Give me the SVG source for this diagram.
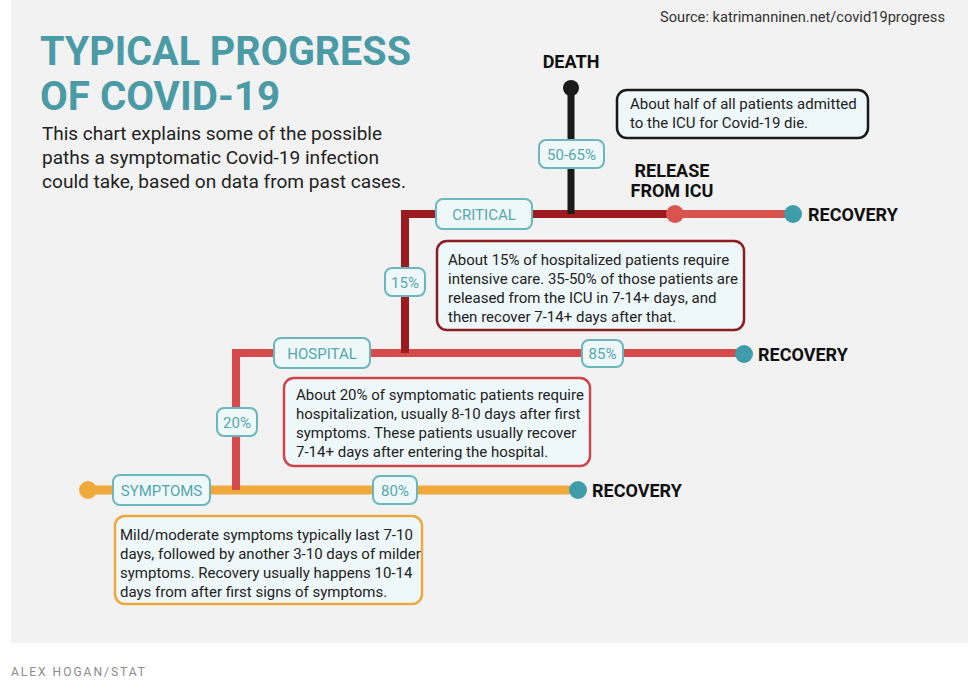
<svg xmlns="http://www.w3.org/2000/svg" width="972" height="691" viewBox="0 0 972 691">
<style>
text{font-family:Roboto,"Liberation Sans",sans-serif}
.lbl{fill:#eef8f9;stroke:#6bb7bd;stroke-width:2}
.lt{fill:#56a6ae;font-size:15px;text-anchor:middle}
.desc{fill:#eef7f9;stroke-width:2.5}
.dt{fill:#222;font-size:15px}
.end{fill:#111;font-size:18px;font-weight:bold}
.rec{fill:#3f9dab}
</style>
<rect x="0" y="0" width="972" height="691" fill="#ffffff"/>
<rect x="11" y="0" width="957" height="643" fill="#f2f2f2"/>
<g id="title">
<text x="40" y="65" font-size="40" font-weight="bold" fill="#4a9ba6" textLength="371" lengthAdjust="spacingAndGlyphs">TYPICAL PROGRESS</text>
<text x="40" y="110" font-size="40" font-weight="bold" fill="#4a9ba6" textLength="240" lengthAdjust="spacingAndGlyphs">OF COVID-19</text>
<text x="42" y="140" font-size="19" fill="#222" textLength="340" lengthAdjust="spacingAndGlyphs">This chart explains some of the possible</text>
<text x="42" y="164" font-size="19" fill="#222" textLength="337" lengthAdjust="spacingAndGlyphs">paths a symptomatic Covid-19 infection</text>
<text x="42" y="188" font-size="19" fill="#222" textLength="364" lengthAdjust="spacingAndGlyphs">could take, based on data from past cases.</text>
<text x="660" y="22" font-size="14" fill="#333" textLength="285" lengthAdjust="spacingAndGlyphs">Source: katrimanninen.net/covid19progress</text>
</g>
<g id="connectors" fill="none" stroke-linecap="butt">
<line x1="88" y1="490" x2="578" y2="490" stroke="#f0aa3c" stroke-width="9"/>
<polyline points="236,490 236,353 744,353" stroke="#d64a4c" stroke-width="8"/>
<polyline points="405,353 405,214 675,214" stroke="#9c1b1f" stroke-width="8"/>
<line x1="675" y1="214" x2="793" y2="214" stroke="#d9534f" stroke-width="8"/>
<line x1="571" y1="88" x2="571" y2="214" stroke="#1a1a1a" stroke-width="7"/>
</g>
<g id="dots">
<circle cx="88" cy="490" r="9" fill="#f0aa3c"/>
<circle cx="578" cy="490" r="9" class="rec"/>
<circle cx="744" cy="354" r="9" class="rec"/>
<circle cx="793" cy="214" r="9" class="rec"/>
<circle cx="675" cy="214" r="9" fill="#d9534f"/>
<circle cx="571" cy="88" r="8" fill="#1a1a1a"/>
</g>
<g id="symptoms"><rect x="113" y="475" width="97" height="30" rx="7" class="lbl"/><text x="161.5" y="496" class="lt">SYMPTOMS</text></g>
<g id="p80"><rect x="373" y="476" width="44" height="28" rx="7" class="lbl"/><text x="395" y="496" class="lt">80%</text></g>
<g id="rec1"><text x="592" y="497" class="end">RECOVERY</text></g>
<g id="p20"><rect x="217" y="408" width="40" height="28" rx="7" class="lbl"/><text x="237" y="428" class="lt">20%</text></g>
<g id="hospital"><rect x="274" y="338" width="96" height="30" rx="7" class="lbl"/><text x="322" y="359" class="lt">HOSPITAL</text></g>
<g id="p85"><rect x="582" y="340" width="41" height="27" rx="7" class="lbl"/><text x="602.5" y="359" class="lt">85%</text></g>
<g id="rec2"><text x="758" y="361" class="end">RECOVERY</text></g>
<g id="p15"><rect x="385" y="268" width="40" height="28" rx="7" class="lbl"/><text x="405" y="288" class="lt">15%</text></g>
<g id="critical"><rect x="436" y="199" width="96" height="30" rx="7" class="lbl"/><text x="484" y="220" class="lt">CRITICAL</text></g>
<g id="p5065"><rect x="539" y="140" width="65" height="28" rx="7" class="lbl"/><text x="571.5" y="160" class="lt">50-65%</text></g>
<g id="death"><text x="571" y="68" class="end" text-anchor="middle">DEATH</text></g>
<g id="release"><text x="672" y="177" class="end" text-anchor="middle">RELEASE</text><text x="672" y="197" class="end" text-anchor="middle">FROM ICU</text></g>
<g id="rec3"><text x="808" y="221" class="end">RECOVERY</text></g>
<g id="deathNote">
<rect x="617" y="90" width="251" height="48" rx="10" class="desc" stroke="#1a1a1a"/>
<text x="630" y="109" class="dt">About half of all patients admitted</text>
<text x="630" y="128" class="dt">to the ICU for Covid-19 die.</text>
</g>
<g id="icuNote">
<rect x="437" y="241" width="307" height="89" rx="10" class="desc" stroke="#8b1e22"/>
<text x="448" y="265" class="dt">About 15% of hospitalized patients require</text>
<text x="448" y="284" class="dt">intensive care. 35-50% of those patients are</text>
<text x="448" y="303" class="dt">released from the ICU in 7-14+ days, and</text>
<text x="448" y="322" class="dt">then recover 7-14+ days after that.</text>
</g>
<g id="hospNote">
<rect x="284" y="378" width="306" height="88" rx="10" class="desc" stroke="#c9474d"/>
<text x="296" y="400" class="dt">About 20% of symptomatic patients require</text>
<text x="296" y="419" class="dt">hospitalization, usually 8-10 days after first</text>
<text x="296" y="438" class="dt">symptoms. These patients usually recover</text>
<text x="296" y="457" class="dt">7-14+ days after entering the hospital.</text>
</g>
<g id="sympNote">
<rect x="115" y="516" width="307" height="88" rx="10" class="desc" stroke="#eaaa40"/>
<text x="120" y="540" class="dt">Mild/moderate symptoms typically last 7-10</text>
<text x="120" y="559" class="dt">days, followed by another 3-10 days of milder</text>
<text x="120" y="578" class="dt">symptoms. Recovery usually happens 10-14</text>
<text x="120" y="597" class="dt">days from after first signs of symptoms.</text>
</g>
<text x="11" y="676" font-size="12" fill="#8a8a8a" letter-spacing="2">ALEX HOGAN/STAT</text>
</svg>
